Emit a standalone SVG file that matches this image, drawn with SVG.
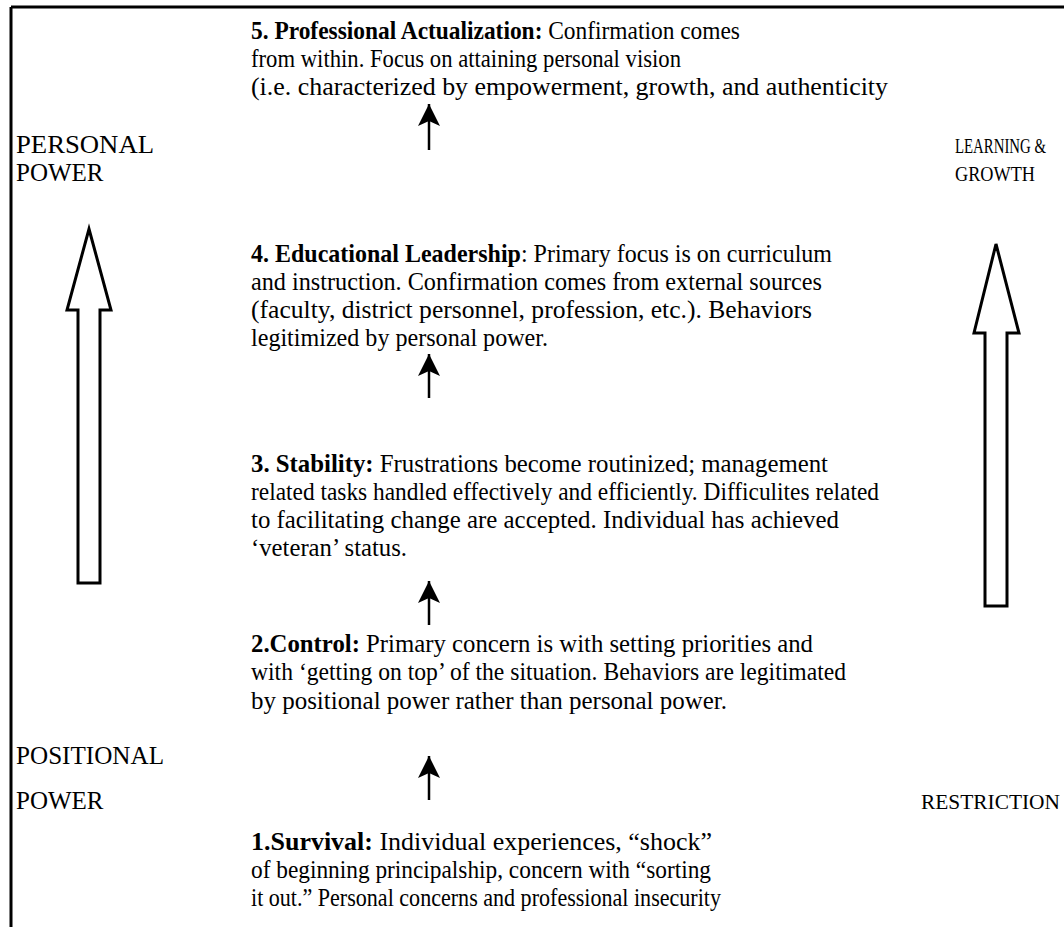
<svg xmlns="http://www.w3.org/2000/svg" width="1064" height="927" viewBox="0 0 1064 927">
<style>
  text { font-family: "Liberation Serif", "Times New Roman", serif; font-size: 25px; fill: #000; }
  .b { font-weight: bold; }
  .lbl { font-size: 22px; }
  .side { font-size: 25px; }
  .frame { stroke: #000; stroke-width: 3; fill: none; }
  .big { fill: #fff; stroke: #000; stroke-width: 3; stroke-linejoin: miter; }
  .small { stroke: #000; stroke-width: 2.5; fill: none; }
</style>
<defs>
  <marker id="head" markerUnits="userSpaceOnUse" markerWidth="24" markerHeight="24" viewBox="0 0 24 24" refX="22" refY="11" orient="auto">
    <path d="M0,0 L22,11 L0,22 L5,11 Z" fill="#000"/>
  </marker>
</defs>
<g id="frame">
  <line class="frame" x1="11" y1="7" x2="1064" y2="7"/>
  <line class="frame" x1="11" y1="7" x2="11" y2="927"/>
</g>
<g id="stage5">
  <text x="251" y="39" textLength="489" lengthAdjust="spacingAndGlyphs"><tspan class="b">5. Professional Actualization:</tspan>  Confirmation comes</text>
  <text x="251" y="67" textLength="430" lengthAdjust="spacingAndGlyphs">from within. Focus on attaining personal vision</text>
  <text x="251" y="95" textLength="637" lengthAdjust="spacingAndGlyphs">(i.e. characterized by empowerment, growth, and authenticity</text>
</g>
<g id="personal-power">
  <text class="side" x="16" y="153" textLength="138" lengthAdjust="spacingAndGlyphs">PERSONAL</text>
  <text class="side" x="16" y="181">POWER</text>
</g>
<g id="learning-growth">
  <text class="lbl" x="955" y="153" textLength="91" lengthAdjust="spacingAndGlyphs">LEARNING &amp;</text>
  <text class="lbl" x="955" y="181" textLength="80" lengthAdjust="spacingAndGlyphs">GROWTH</text>
</g>
<g id="stage4">
  <text x="251" y="262" textLength="581" lengthAdjust="spacingAndGlyphs"><tspan class="b">4. Educational Leadership</tspan>: Primary focus is on curriculum</text>
  <text x="251" y="290" textLength="571" lengthAdjust="spacingAndGlyphs">and instruction. Confirmation comes from external sources</text>
  <text x="251" y="318" textLength="561" lengthAdjust="spacingAndGlyphs">(faculty, district personnel, profession, etc.). Behaviors</text>
  <text x="251" y="346" textLength="297" lengthAdjust="spacingAndGlyphs">legitimized by personal power.</text>
</g>
<g id="stage3">
  <text x="251" y="472" textLength="577" lengthAdjust="spacingAndGlyphs"><tspan class="b">3.  Stability:</tspan>  Frustrations become routinized; management</text>
  <text x="251" y="500" textLength="628" lengthAdjust="spacingAndGlyphs">related tasks handled effectively and efficiently. Difficulites related</text>
  <text x="251" y="528" textLength="588" lengthAdjust="spacingAndGlyphs">to facilitating change are accepted. Individual has achieved</text>
  <text x="251" y="556" textLength="156" lengthAdjust="spacingAndGlyphs">‘veteran’ status.</text>
</g>
<g id="stage2">
  <text x="251" y="652" textLength="562" lengthAdjust="spacingAndGlyphs"><tspan class="b">2.Control:</tspan>  Primary concern is with setting priorities and</text>
  <text x="251" y="680" textLength="595" lengthAdjust="spacingAndGlyphs">with ‘getting on top’ of the situation. Behaviors are legitimated</text>
  <text x="251" y="709" textLength="476" lengthAdjust="spacingAndGlyphs">by positional power rather than personal power.</text>
</g>
<g id="positional-power">
  <text class="side" x="16" y="764" textLength="148" lengthAdjust="spacingAndGlyphs">POSITIONAL</text>
  <text class="side" x="16" y="809">POWER</text>
</g>
<g id="restriction">
  <text class="lbl" x="921" y="809" textLength="139" lengthAdjust="spacingAndGlyphs">RESTRICTION</text>
</g>
<g id="stage1">
  <text x="251" y="850" textLength="461" lengthAdjust="spacingAndGlyphs"><tspan class="b">1.Survival:</tspan>  Individual experiences, “shock”</text>
  <text x="251" y="878" textLength="460" lengthAdjust="spacingAndGlyphs">of beginning principalship, concern with “sorting</text>
  <text x="251" y="906" textLength="470" lengthAdjust="spacingAndGlyphs">it out.” Personal concerns and professional insecurity</text>
</g>
<g id="connectors">
  <polygon class="big" points="89,229 111,310 100,310 100,583 78,583 78,310 67,310"/>
  <polygon class="big" points="996,244 1019,333 1007,333 1007,606 985,606 985,333 974,333"/>
  <line class="small" x1="429" y1="150" x2="429" y2="104" marker-end="url(#head)"/>
  <line class="small" x1="429" y1="398" x2="429" y2="354" marker-end="url(#head)"/>
  <line class="small" x1="429" y1="625" x2="429" y2="581" marker-end="url(#head)"/>
  <line class="small" x1="429" y1="800" x2="429" y2="756" marker-end="url(#head)"/>
</g>
</svg>
